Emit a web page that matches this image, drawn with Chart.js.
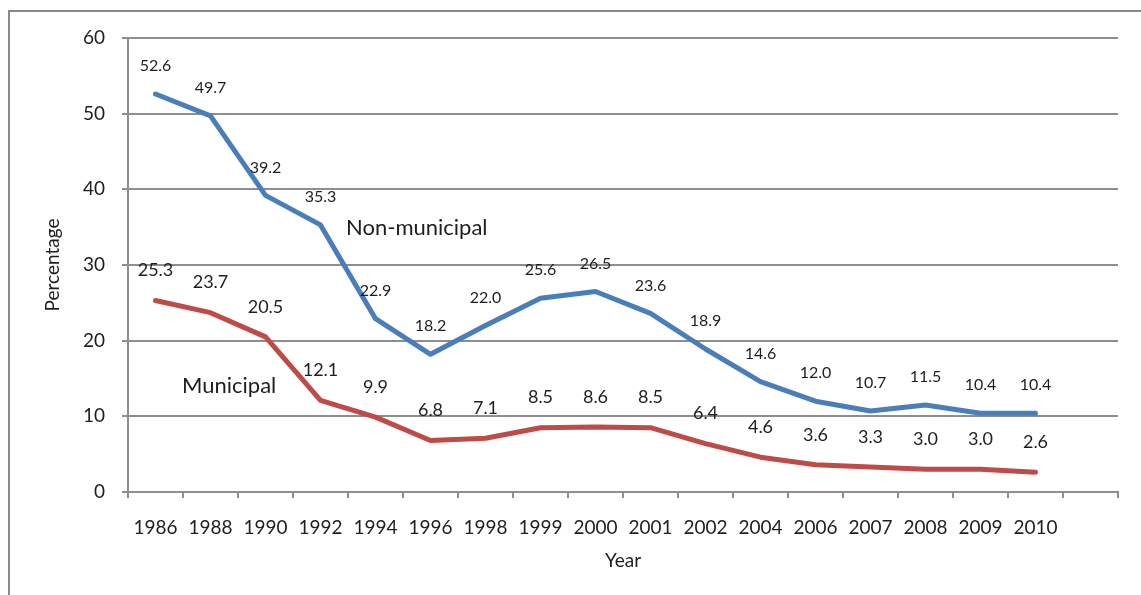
<!DOCTYPE html>
<html>
<head>
<meta charset="utf-8">
<script src="https://cdn.jsdelivr.net/npm/chart.js@4.4.0/dist/chart.umd.min.js"></script>
<style>
    html, body { margin: 0; padding: 0; background: #fff; }
    #Contenedor { width: 1141px; height: 595px; position: relative; }
</style>
</head>
<body>
<div id="Contenedor"><canvas id="ChartResiduos"></canvas></div>
<script>
// datos
const Anios = ['1986', '1988', '1990', '1992', '1994', '1996', '1998', '1999', '2000',
    '2001', '2002', '2004', '2006', '2007', '2008', '2009', '2010', ''];
const NoMunicipal = [52.6, 49.7, 39.2, 35.3, 22.9, 18.2, 22.0, 25.6, 26.5, 23.6, 18.9, 14.6, 12.0, 10.7, 11.5, 10.4, 10.4];
const Municipal = [25.3, 23.7, 20.5, 12.1, 9.9, 6.8, 7.1, 8.5, 8.6, 8.5, 6.4, 4.6, 3.6, 3.3, 3.0, 3.0, 2.6];
const TicksY = [0, 10, 20, 30, 40, 50, 60];

const Fuente = 'Lato';
const ColorTexto = '#1e1e1e';
const ColorGrilla = '#8e8e8e';

Chart.defaults.font.family = Fuente;
Chart.defaults.color = ColorTexto;

// marco exterior gris
const MarcoPlugin = {
    id: 'marco',
    beforeDraw: (chart) => {
        const ctx = chart.ctx;
        ctx.save();
        ctx.fillStyle = '#ffffff';
        ctx.fillRect(0, 0, chart.width, chart.height);
        ctx.strokeStyle = '#8a8a8a';
        ctx.lineWidth = 2;
        ctx.strokeRect(9, 11, chart.width + 20, chart.height + 20);
        ctx.restore();
    }
};

// etiquetas de valores y nombres de las series
const EtiquetasPlugin = {
    id: 'etiquetas',
    afterDatasetsDraw: (chart, args, opts) => {
        const ctx = chart.ctx;
        ctx.save();
        ctx.fillStyle = ColorTexto;
        ctx.textAlign = 'center';
        ctx.textBaseline = 'middle';
        chart.data.datasets.forEach((ds, i) => {
            const meta = chart.getDatasetMeta(i);
            ctx.font = opts.tamanos[i] + 'px ' + Fuente;
            meta.data.forEach((pt, j) => {
                ctx.fillText(ds.data[j].toFixed(1), pt.x, pt.y - opts.desfases[i]);
            });
        });
        ctx.font = opts.tamanoSerie + 'px ' + Fuente;
        ctx.textAlign = 'left';
        opts.series.forEach((s) => {
            ctx.fillText(s.texto, s.x, s.y);
        });
        ctx.restore();
    }
};

var ctxResiduos = document.getElementById('ChartResiduos');
var ChartResiduos = new Chart(ctxResiduos, {
    type: 'line',
    data: {
        labels: Anios,
        datasets: [{
            label: 'Non-municipal',
            data: NoMunicipal,
            borderColor: '#4a7ebb',
            backgroundColor: '#4a7ebb',
            borderWidth: 5,
            pointRadius: 0,
            tension: 0,
            borderCapStyle: 'round',
            borderJoinStyle: 'round'
        }, {
            label: 'Municipal',
            data: Municipal,
            borderColor: '#be4b48',
            backgroundColor: '#be4b48',
            borderWidth: 5,
            pointRadius: 0,
            tension: 0,
            borderCapStyle: 'round',
            borderJoinStyle: 'round'
        }]
    },
    options: {
        responsive: true,
        maintainAspectRatio: false,
        animation: false,
        layout: {
            padding: { left: 0, top: 38, right: 23, bottom: 23 }
        },
        plugins: {
            legend: { display: false },
            tooltip: { enabled: false },
            etiquetas: {
                tamanos: [16, 18],
                desfases: [28, 30],
                tamanoSerie: 22,
                series: [
                    { texto: 'Non-municipal', x: 346, y: 228 },
                    { texto: 'Municipal', x: 182, y: 386 }
                ]
            }
        },
        scales: {
            x: {
                type: 'category',
                offset: true,
                grid: {
                    offset: true,
                    drawOnChartArea: false,
                    drawTicks: true,
                    tickLength: 6,
                    color: ColorGrilla,
                    lineWidth: 2
                },
                border: { color: ColorGrilla, width: 2 },
                ticks: {
                    autoSkip: false,
                    maxRotation: 0,
                    padding: 18,
                    color: ColorTexto,
                    font: { size: 19 }
                },
                title: {
                    display: true,
                    text: 'Year',
                    color: ColorTexto,
                    padding: 0,
                    font: { size: 19 }
                },
                afterFit: (scale) => { scale.height = 80; }
            },
            y: {
                min: 0,
                max: 60,
                afterBuildTicks: (scale) => {
                    scale.ticks = TicksY.map(v => ({ value: v }));
                },
                grid: {
                    color: ColorGrilla,
                    lineWidth: 2,
                    drawTicks: true,
                    tickLength: 6
                },
                border: { color: ColorGrilla, width: 2 },
                ticks: {
                    padding: 17,
                    color: ColorTexto,
                    font: { size: 19 }
                },
                title: {
                    display: true,
                    text: 'Percentage',
                    color: ColorTexto,
                    padding: { top: 41, bottom: 0 },
                    font: { size: 19 }
                },
                afterFit: (scale) => { scale.width = 128; }
            }
        }
    },
    plugins: [MarcoPlugin, EtiquetasPlugin]
});
</script>
</body>
</html>
